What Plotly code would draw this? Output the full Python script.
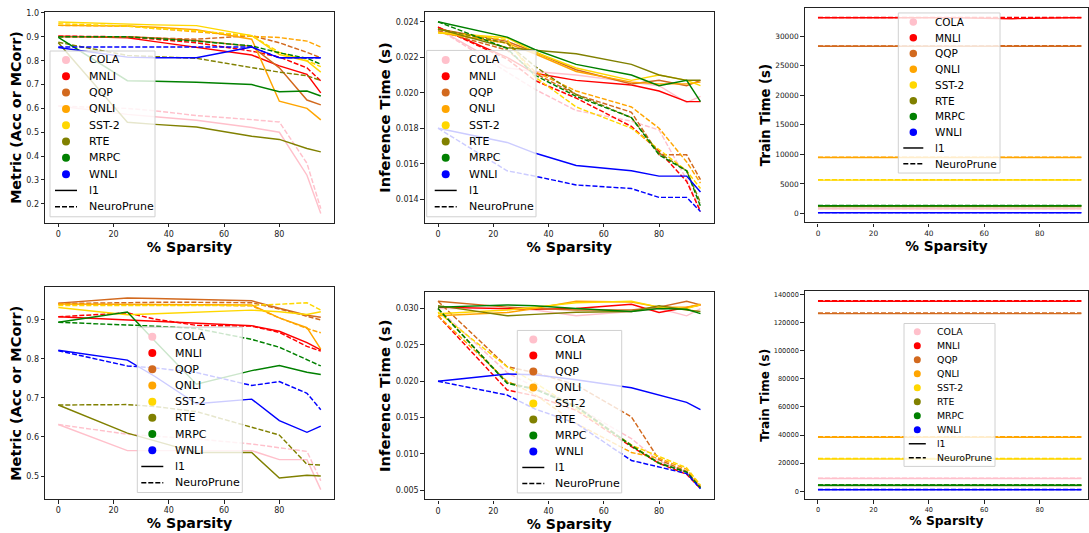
import plotly.graph_objects as go

W, H = 1089, 533

# ---------------- data ----------------
sparsity = [0, 25, 35, 50, 70, 80, 90, 95]
tasks = ["COLA", "MNLI", "QQP", "QNLI", "SST-2", "RTE", "MRPC", "WNLI"]
task_colors = ["pink", "red", "chocolate", "orange", "gold", "olive", "green", "blue"]
methods = ["l1", "NeuroPrune"]
x_ticks = [0, 20, 40, 60, 80]

# top row, metric
metric_top_l1 = {
    "COLA": [0.61, 0.575, 0.565, 0.55, 0.52, 0.50, 0.32, 0.16],
    "MNLI": [0.903, 0.896, 0.88, 0.855, 0.824, 0.778, 0.743, 0.665],
    "QQP": [0.90, 0.90, 0.895, 0.885, 0.86, 0.77, 0.635, 0.615],
    "QNLI": [0.948, 0.945, 0.94, 0.93, 0.89, 0.63, 0.60, 0.552],
    "SST-2": [0.962, 0.952, 0.95, 0.947, 0.905, 0.826, 0.799, 0.752],
    "RTE": [0.875, 0.542, 0.533, 0.522, 0.483, 0.47, 0.432, 0.418],
    "MRPC": [0.898, 0.716, 0.714, 0.71, 0.70, 0.67, 0.673, 0.652],
    "WNLI": [0.855, 0.815, 0.812, 0.812, 0.857, 0.812, 0.812, 0.812],
}
metric_top_np = {
    "COLA": [0.61, 0.60, 0.59, 0.57, 0.553, 0.543, 0.37, 0.18],
    "MNLI": [0.903, 0.90, 0.89, 0.875, 0.84, 0.815, 0.77, 0.715],
    "QQP": [0.90, 0.90, 0.895, 0.89, 0.905, 0.875, 0.835, 0.812],
    "QNLI": [0.948, 0.945, 0.935, 0.92, 0.902, 0.897, 0.882, 0.857],
    "SST-2": [0.955, 0.945, 0.935, 0.925, 0.905, 0.835, 0.80, 0.775],
    "RTE": [0.877, 0.822, 0.817, 0.81, 0.771, 0.752, 0.737, 0.717],
    "MRPC": [0.90, 0.90, 0.893, 0.882, 0.862, 0.833, 0.81, 0.785],
    "WNLI": [0.857, 0.857, 0.857, 0.857, 0.857, 0.812, 0.812, 0.812],
}

# top row, inference time
infer_top_l1 = {
    "COLA": [0.0236, 0.0214, 0.0212, 0.0210, 0.0206, 0.0204, 0.01945, 0.0198],
    "MNLI": [0.0237, 0.0220, 0.0211, 0.0207, 0.02044, 0.0201, 0.0195, 0.0195],
    "QQP": [0.0236, 0.0229, 0.0223, 0.0213, 0.0205, 0.0207, 0.0204, 0.0207],
    "QNLI": [0.0234, 0.0228, 0.0222, 0.0212, 0.0206, 0.0205, 0.0205, 0.0206],
    "SST-2": [0.0234, 0.0231, 0.0223, 0.0214, 0.0207, 0.0210, 0.0207, 0.0204],
    "RTE": [0.0236, 0.02254, 0.0224, 0.0222, 0.0216, 0.0210, 0.0207, 0.0207],
    "MRPC": [0.0240, 0.02314, 0.02244, 0.0216, 0.0210, 0.0204, 0.0207, 0.0195],
    "WNLI": [0.0180, 0.0172, 0.0166, 0.0159, 0.0156, 0.0153, 0.0153, 0.0144],
}
infer_top_np = {
    "COLA": [0.0236, 0.0212, 0.0202, 0.0190, 0.0184, 0.0179, 0.0151, 0.0134],
    "MNLI": [0.0237, 0.0219, 0.0207, 0.0197, 0.0181, 0.0167, 0.0150, 0.0133],
    "QQP": [0.0235, 0.0224, 0.0211, 0.0199, 0.0189, 0.0165, 0.0165, 0.0151],
    "QNLI": [0.0234, 0.0228, 0.0212, 0.0201, 0.0192, 0.0180, 0.0161, 0.0149],
    "SST-2": [0.0234, 0.0230, 0.0209, 0.0192, 0.0180, 0.0168, 0.0156, 0.0146],
    "RTE": [0.0236, 0.0228, 0.0215, 0.0199, 0.0186, 0.0166, 0.0156, 0.0138],
    "MRPC": [0.0240, 0.0225, 0.0210, 0.0198, 0.0186, 0.0165, 0.0156, 0.0136],
    "WNLI": [0.0180, 0.0156, 0.0153, 0.0148, 0.0146, 0.0141, 0.0141, 0.0133],
}

# top row, train time
train_top_l1 = {
    "COLA": [820, 820, 815, 820, 820, 815, 820, 820],
    "MNLI": [33120, 33100, 33110, 33090, 32950, 33080, 33100, 33110],
    "QQP": [28280, 28280, 28270, 28280, 28260, 28300, 28300, 28290],
    "QNLI": [9480, 9480, 9470, 9480, 9470, 9480, 9470, 9480],
    "SST-2": [5650, 5650, 5640, 5650, 5650, 5640, 5650, 5660],
    "RTE": [1180, 1180, 1175, 1180, 1180, 1185, 1180, 1180],
    "MRPC": [1320, 1320, 1315, 1320, 1320, 1320, 1325, 1320],
    "WNLI": [120, 120, 118, 120, 121, 120, 120, 119],
}
train_top_np = {
    "COLA": [860, 860, 855, 860, 860, 860, 865, 860],
    "MNLI": [33150, 33140, 33150, 33140, 33100, 33180, 33170, 33160],
    "QQP": [28320, 28310, 28320, 28310, 28300, 28380, 28380, 28370],
    "QNLI": [9520, 9520, 9515, 9520, 9520, 9525, 9520, 9520],
    "SST-2": [5700, 5700, 5695, 5700, 5700, 5705, 5700, 5710],
    "RTE": [1250, 1250, 1245, 1250, 1250, 1255, 1250, 1250],
    "MRPC": [1380, 1380, 1375, 1380, 1380, 1385, 1380, 1380],
    "WNLI": [150, 150, 148, 150, 151, 150, 150, 149],
}

# bottom row, metric
metric_bot_l1 = {
    "COLA": [0.632, 0.565, 0.565, 0.565, 0.565, 0.542, 0.542, 0.465],
    "MNLI": [0.908, 0.90, 0.897, 0.893, 0.885, 0.871, 0.842, 0.823],
    "QQP": [0.943, 0.956, 0.955, 0.953, 0.949, 0.930, 0.912, 0.907],
    "QNLI": [0.941, 0.940, 0.940, 0.940, 0.938, 0.905, 0.880, 0.825],
    "SST-2": [0.932, 0.913, 0.916, 0.920, 0.925, 0.921, 0.914, 0.921],
    "RTE": [0.682, 0.610, 0.590, 0.560, 0.560, 0.495, 0.502, 0.500],
    "MRPC": [0.894, 0.920, 0.845, 0.735, 0.770, 0.783, 0.766, 0.760],
    "WNLI": [0.822, 0.797, 0.755, 0.685, 0.697, 0.642, 0.612, 0.628],
}
metric_bot_np = {
    "COLA": [0.632, 0.607, 0.602, 0.595, 0.582, 0.572, 0.563, 0.488],
    "MNLI": [0.908, 0.918, 0.902, 0.886, 0.884, 0.868, 0.832, 0.820],
    "QQP": [0.942, 0.945, 0.945, 0.945, 0.944, 0.928, 0.910, 0.900],
    "QNLI": [0.940, 0.938, 0.938, 0.938, 0.936, 0.905, 0.878, 0.867],
    "SST-2": [0.937, 0.937, 0.937, 0.937, 0.937, 0.940, 0.944, 0.925],
    "RTE": [0.682, 0.683, 0.678, 0.665, 0.625, 0.605, 0.530, 0.528],
    "MRPC": [0.894, 0.887, 0.884, 0.878, 0.850, 0.830, 0.797, 0.782],
    "WNLI": [0.821, 0.782, 0.777, 0.765, 0.732, 0.742, 0.712, 0.670],
}

# bottom row, inference time
infer_bot_l1 = {
    "COLA": [0.0300, 0.0300, 0.0298, 0.0290, 0.0296, 0.0300, 0.0290, 0.0300],
    "MNLI": [0.0302, 0.0300, 0.0299, 0.0300, 0.0306, 0.02945, 0.0302, 0.0305],
    "QQP": [0.0310, 0.0302, 0.0300, 0.0298, 0.0298, 0.0302, 0.0310, 0.0305],
    "QNLI": [0.0290, 0.02945, 0.0300, 0.0310, 0.0309, 0.0302, 0.0302, 0.0306],
    "SST-2": [0.0293, 0.0298, 0.0302, 0.0308, 0.0310, 0.0302, 0.0300, 0.0305],
    "RTE": [0.0304, 0.0290, 0.0292, 0.0295, 0.0296, 0.0304, 0.0298, 0.0296],
    "MRPC": [0.0302, 0.0305, 0.0304, 0.0300, 0.0296, 0.0300, 0.0299, 0.0293],
    "WNLI": [0.0200, 0.0210, 0.0209, 0.0202, 0.0191, 0.0181, 0.0171, 0.0161],
}
infer_bot_np = {
    "COLA": [0.0300, 0.0212, 0.0192, 0.0165, 0.0121, 0.0090, 0.0075, 0.0052],
    "MNLI": [0.0290, 0.0188, 0.0180, 0.0160, 0.0110, 0.0087, 0.0072, 0.0052],
    "QQP": [0.0310, 0.0220, 0.0212, 0.0195, 0.0151, 0.0092, 0.0076, 0.0055],
    "QNLI": [0.0290, 0.0200, 0.0182, 0.0142, 0.0102, 0.0094, 0.0079, 0.0055],
    "SST-2": [0.0295, 0.0220, 0.0198, 0.0162, 0.0112, 0.0096, 0.0081, 0.0057],
    "RTE": [0.0300, 0.0198, 0.0190, 0.0166, 0.0112, 0.0088, 0.0075, 0.0054],
    "MRPC": [0.0300, 0.0197, 0.0189, 0.0165, 0.0111, 0.0087, 0.0075, 0.0053],
    "WNLI": [0.0200, 0.0181, 0.0162, 0.0142, 0.0091, 0.0082, 0.0073, 0.0052],
}

# bottom row, train time
train_bot_l1 = {
    "COLA": [9100, 9100, 9090, 9100, 9100, 9110, 9100, 9100],
    "MNLI": [135300, 135300, 135280, 135300, 135310, 135300, 135290, 135300],
    "QQP": [126500, 126500, 126490, 126500, 126500, 126510, 126500, 126500],
    "QNLI": [38500, 38500, 38490, 38500, 38500, 38510, 38500, 38500],
    "SST-2": [23000, 23000, 22990, 23000, 23000, 23010, 23000, 23000],
    "RTE": [4100, 4100, 4095, 4100, 4100, 4105, 4100, 4100],
    "MRPC": [4300, 4300, 4295, 4300, 4300, 4305, 4300, 4300],
    "WNLI": [1100, 1100, 1095, 1100, 1100, 1105, 1100, 1100],
}
train_bot_np = {
    "COLA": [9300, 9300, 9290, 9300, 9300, 9310, 9300, 9300],
    "MNLI": [135700, 135700, 135690, 135700, 135700, 135710, 135700, 135700],
    "QQP": [126900, 126900, 126890, 126900, 126900, 126910, 126900, 126900],
    "QNLI": [38800, 38800, 38790, 38800, 38800, 38810, 38800, 38800],
    "SST-2": [23300, 23300, 23290, 23300, 23300, 23310, 23300, 23300],
    "RTE": [4300, 4300, 4295, 4300, 4300, 4305, 4300, 4300],
    "MRPC": [4500, 4500, 4495, 4500, 4500, 4505, 4500, 4500],
    "WNLI": [1200, 1200, 1195, 1200, 1200, 1205, 1200, 1200],
}

panel_data = [
    (metric_top_l1, metric_top_np),
    (infer_top_l1, infer_top_np),
    (train_top_l1, train_top_np),
    (metric_bot_l1, metric_bot_np),
    (infer_bot_l1, infer_bot_np),
    (train_bot_l1, train_bot_np),
]

# ---------------- layout (pixel geometry) ----------------
FONT = "DejaVu Sans"
panels = [
    dict(xd=(45.2, 333.9), yd=(9.3, 221), xr=(-4.75, 99.75), yr=(0.1208, 1.003),
         tickvals=[0.2, 0.3, 0.4, 0.5, 0.6, 0.7, 0.8, 0.9, 1.0], fmt=".1f",
         ytitle="Metric (Acc or MCorr)", tfs=8, xts=14.2, yts=14.3),
    dict(xd=(424.9, 713.6), yd=(9.3, 221), xr=(-4.75, 99.75), yr=(0.01267, 0.02454),
         tickvals=[0.014, 0.016, 0.018, 0.020, 0.022, 0.024], fmt=".3f",
         ytitle="Inference Time (s)", tfs=8, xts=14.2, yts=14.6),
    dict(xd=(804.8, 1088), yd=(4.7, 220.7), xr=(-4.75, 97.4), yr=(-1513, 34809),
         tickvals=[0, 5000, 10000, 15000, 20000, 25000, 30000], fmt="d",
         ytitle="Train Time (s)", tfs=7.4, xts=13.7, yts=13.2),
    dict(xd=(45.2, 333.9), yd=(286, 499), xr=(-4.75, 99.75), yr=(0.4406, 0.9833),
         tickvals=[0.5, 0.6, 0.7, 0.8, 0.9], fmt=".1f",
         ytitle="Metric (Acc or MCorr)", tfs=8, xts=14.2, yts=14.5),
    dict(xd=(424.9, 713.6), yd=(290.7, 499.3), xr=(-4.75, 99.75), yr=(0.00373, 0.03227),
         tickvals=[0.005, 0.010, 0.015, 0.020, 0.025, 0.030], fmt=".3f",
         ytitle="Inference Time (s)", tfs=8, xts=14.1, yts=14.8),
    dict(xd=(804.8, 1088), yd=(290, 499), xr=(-4.75, 97.4), yr=(-5665, 142337),
         tickvals=[0, 20000, 40000, 60000, 80000, 100000, 120000, 140000], fmt="d",
         ytitle="Train Time (s)", tfs=6.6, xts=12.3, yts=12.0),
]

legends = [
    dict(box=(50, 48.3, 155, 215), row0=57.3, step=16.4, dot=66, text=87, fs=11, ms=8, ll=22),
    dict(box=(426.7, 47.7, 536, 215), row0=57.3, step=16.4, dot=445.7, text=466.7, fs=11, ms=8, ll=22),
    dict(box=(898.3, 10, 1000, 171), row0=19, step=15.85, dot=913.3, text=933.3, fs=10.5, ms=7.5, ll=20),
    dict(box=(137.3, 326, 242.3, 492.3), row0=335.7, step=16.3, dot=152.3, text=172.7, fs=11, ms=8, ll=22),
    dict(box=(517.3, 329.3, 621.7, 492.7), row0=338.3, step=16.1, dot=533.3, text=552.7, fs=11, ms=8, ll=22),
    dict(box=(904, 322.3, 995, 466), row0=330.7, step=14.07, dot=917.3, text=935, fs=9.4, ms=7, ll=17),
]

LW = 1.45
DASH = "5px,2px"


def px(x):
    return x / W


def py(y):
    return 1 - y / H


fig = go.Figure()

for i, (l1d, npd) in enumerate(panel_data, start=1):
    xa = "x" if i == 1 else f"x{i}"
    ya = "y" if i == 1 else f"y{i}"
    for t, c in zip(tasks, task_colors):
        fig.add_trace(go.Scatter(
            x=sparsity, y=l1d[t], mode="lines", name=f"{t} {methods[0]}",
            line=dict(color=c, width=LW), xaxis=xa, yaxis=ya, showlegend=False))
        fig.add_trace(go.Scatter(
            x=sparsity, y=npd[t], mode="lines", name=f"{t} {methods[1]}",
            line=dict(color=c, width=LW, dash=DASH), xaxis=xa, yaxis=ya,
            showlegend=False))

layout_axes = {}
for i, p in enumerate(panels, start=1):
    xkey = "xaxis" if i == 1 else f"xaxis{i}"
    ykey = "yaxis" if i == 1 else f"yaxis{i}"
    anchor_x = "y" if i == 1 else f"y{i}"
    anchor_y = "x" if i == 1 else f"x{i}"
    common = dict(showline=True, mirror=True, linecolor="#222", linewidth=1.2,
                  ticks="outside", ticklen=3.5, tickwidth=1, tickcolor="#222",
                  showgrid=False, zeroline=False)
    layout_axes[xkey] = dict(
        domain=[px(p["xd"][0]), px(p["xd"][1])], range=list(p["xr"]),
        anchor=anchor_x, tickvals=x_ticks,
        tickfont=dict(size=p["tfs"], color="#222", family=FONT),
        title=dict(text="% Sparsity", standoff=0,
                   font=dict(size=p["xts"], weight="bold", color="black", family=FONT)),
        **common)
    layout_axes[ykey] = dict(
        domain=[py(p["yd"][1]), py(p["yd"][0])], range=list(p["yr"]),
        anchor=anchor_y, tickvals=p["tickvals"], tickformat=p["fmt"],
        tickfont=dict(size=p["tfs"], color="#222", family=FONT),
        title=dict(text=p["ytitle"], standoff=1,
                   font=dict(size=p["yts"], weight="bold", color="black", family=FONT)),
        **common)

fig.update_layout(
    width=W, height=H, margin=dict(l=0, r=0, t=0, b=0),
    paper_bgcolor="white", plot_bgcolor="white", showlegend=False,
    font=dict(family=FONT, color="black"),
    **layout_axes,
)

# matplotlib-style legends (semi-transparent boxes over the axes)
labels = tasks + methods
for lg in legends:
    l, t, r, b = lg["box"]
    fig.add_shape(type="rect", xref="paper", yref="paper",
                  x0=px(l), x1=px(r), y0=py(b), y1=py(t),
                  fillcolor="rgba(255,255,255,0.8)",
                  line=dict(color="#d0d0d0", width=1), layer="above")
    for k, name in enumerate(labels):
        yc = lg["row0"] + k * lg["step"]
        if k < len(tasks):
            r_ = lg["ms"] / 2
            fig.add_shape(type="circle", xref="paper", yref="paper",
                          xsizemode="pixel", ysizemode="pixel",
                          xanchor=px(lg["dot"]), yanchor=py(yc),
                          x0=-r_, x1=r_, y0=-r_, y1=r_,
                          fillcolor=task_colors[k], line=dict(width=0), layer="above")
        else:
            fig.add_shape(type="line", xref="paper", yref="paper",
                          x0=px(lg["dot"] - lg["ll"] / 2), x1=px(lg["dot"] + lg["ll"] / 2),
                          y0=py(yc), y1=py(yc),
                          line=dict(color="black", width=LW,
                                    dash="solid" if k == len(tasks) else DASH),
                          layer="above")
        fig.add_annotation(x=px(lg["text"]), y=py(yc), xref="paper", yref="paper",
                           text=name, showarrow=False, xanchor="left", yanchor="middle",
                           font=dict(size=lg["fs"], color="black", family=FONT))

fig.write_html(
    "out.html",
    config={"displayModeBar": False},
    post_script="document.body.style.margin='0px';document.body.style.overflow='hidden';",
)
